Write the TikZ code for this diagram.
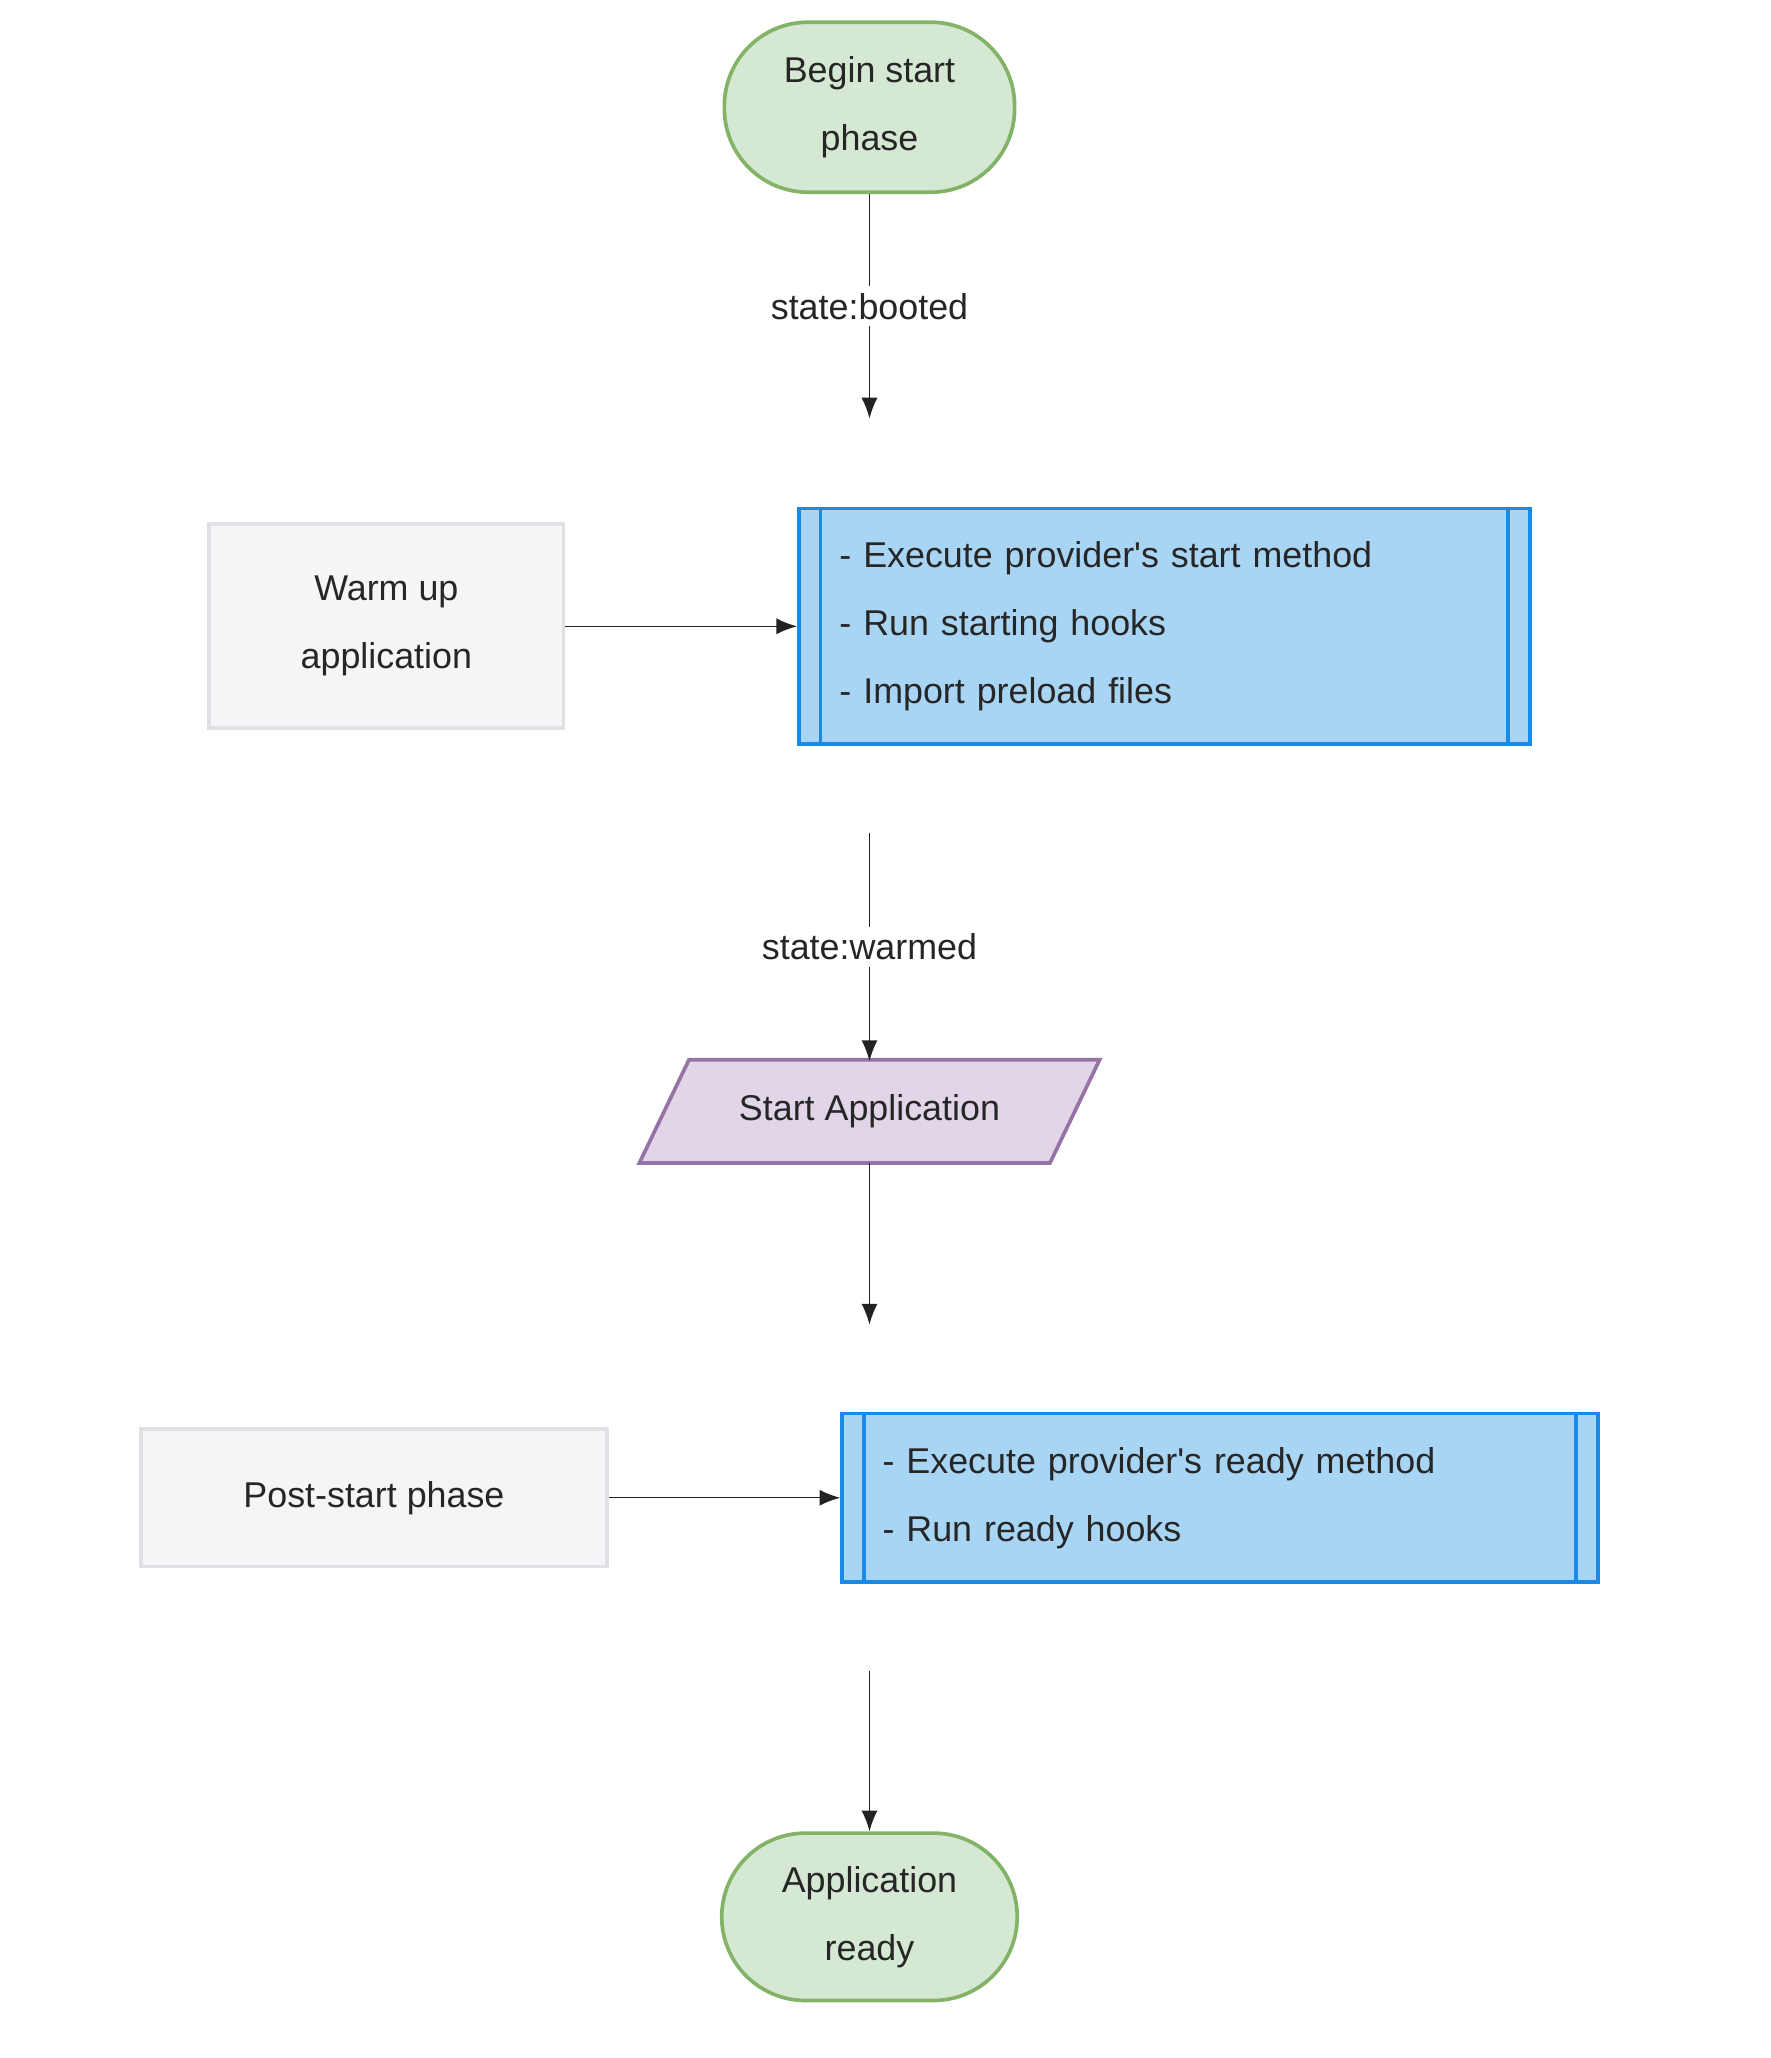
\documentclass[tikz,border=0pt]{standalone}
\usepackage{fontspec}
\setmainfont{Liberation Sans}
\usetikzlibrary{arrows.meta,positioning,shapes.geometric}
\definecolor{termfill}{HTML}{D5E8D4}
\definecolor{termline}{HTML}{82B366}
\definecolor{procfill}{HTML}{A9D5F5}
\definecolor{procline}{HTML}{1A8AE5}
\definecolor{iofill}{HTML}{E1D5E7}
\definecolor{ioline}{HTML}{9673A6}
\definecolor{noteline}{HTML}{E0E1E5}
\definecolor{notefill}{HTML}{F4F5F7}
\definecolor{wire}{HTML}{222222}
\begin{document}
\begin{tikzpicture}[
    >={Latex[length=9pt,width=7pt]}, % arrow head style
    font=\fontsize{15.6}{29.6}\selectfont,
    semithick, % line style
    wire
    ]

    \tikzset{
    term/.style={draw=termline, fill=termfill, line width=1.6pt, rounded corners=1.28cm,
        minimum width=4.44cm, minimum height=2.6cm, align=center, text=black!85},
    note/.style={draw=noteline, fill=notefill, line width=1.6pt, align=center, text=black!85},
    proc/.style={draw=procline, fill=procfill, line width=1.6pt, align=left, text=black!85,
        inner xsep=0.62cm},
    label/.style={fill=white, inner sep=3pt, text=black!85}
    }
    \useasboundingbox (0,0) rectangle (27.08,-31.48);

    \node[term] (begin) at (13.3,-1.64) {Begin start\\phase};
    \node[note, minimum width=5.42cm, minimum height=3.12cm] (warm) at (5.91,-9.58) {Warm up\\application};
    \node[proc, text width=9.94cm, minimum height=3.6cm] (hooks) at (17.81,-9.58)
        {- Execute provider\textquotesingle s start method\\- Run starting hooks\\- Import preload files};
    \draw[procline, line width=1.6pt] ([xshift=0.36cm]hooks.north west) -- ([xshift=0.36cm]hooks.south west)
        ([xshift=-0.36cm]hooks.north east) -- ([xshift=-0.36cm]hooks.south east);

    \node[inner sep=0pt, minimum width=6.26cm, minimum height=1.56cm] (app) at (13.3,-17) {};
    \draw[ioline, fill=iofill, line width=1.6pt] ([xshift=0.38cm]app.north west) -- ([xshift=0.38cm]app.north east)
        -- ([xshift=-0.38cm]app.south east) -- ([xshift=-0.38cm]app.south west) -- cycle;
    \node[text=black!85] at (app) {Start Application};

    \node[note, minimum width=7.12cm, minimum height=2.1cm] (post) at (5.72,-22.91) {Post-start phase};
    \node[proc, text width=10.32cm, minimum height=2.58cm] (ready) at (18.66,-22.91)
        {- Execute provider\textquotesingle s ready method\\- Run ready hooks};
    \draw[procline, line width=1.6pt] ([xshift=0.36cm]ready.north west) -- ([xshift=0.36cm]ready.south west)
        ([xshift=-0.36cm]ready.north east) -- ([xshift=-0.36cm]ready.south east);

    \node[term, minimum width=4.52cm, minimum height=2.56cm] (done) at (13.3,-29.32) {Application\\ready};

    \coordinate (booted) at (13.3,-6.4);
    \coordinate (warmed) at (13.3,-12.74);
    \coordinate (started) at (13.3,-20.26);
    \coordinate (readied) at (13.3,-25.56);

    \path[->] (begin) edge node[label]{state:booted} (booted);
    \path[->] (warm) edge (hooks);
    \path[->] (warmed) edge node[label]{state:warmed} ([yshift=-0.02cm]app.north);
    \path[->] (app) edge (started);
    \path[->] (post) edge (ready);
    \path[->] (readied) edge (done);
\end{tikzpicture}
\end{document}
